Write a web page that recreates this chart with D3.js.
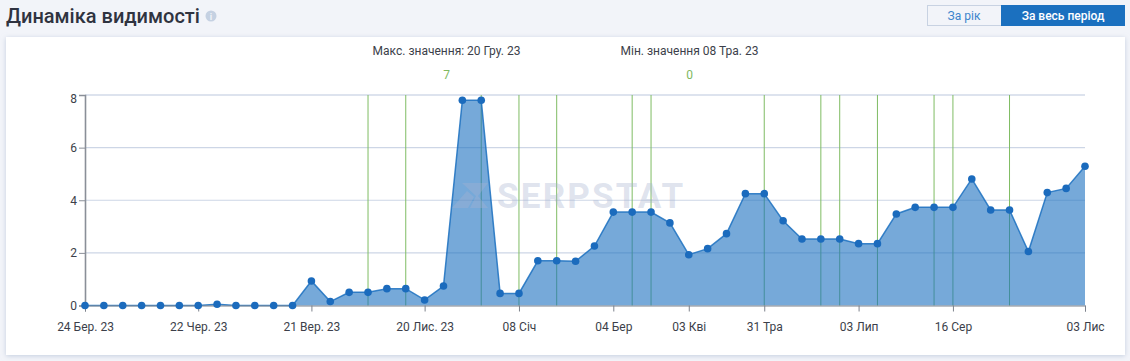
<!DOCTYPE html>
<html>
<head>
<meta charset="utf-8">
<script src="https://cdn.jsdelivr.net/npm/d3@7"></script>
<style>
html, body { margin: 0; padding: 0; background: #f2f4f9; overflow: hidden; }
text { font-family: Roboto, sans-serif; }
.tick text { font-size: 12px; fill: #3c3f4a; }
</style>
</head>
<body>
<div id="chart"></div>
<script>
const values = [0, 0, 0, 0, 0, 0, 0, 0.05, 0, 0, 0, 0, 0.93, 0.15, 0.5, 0.5, 0.64, 0.64, 0.21, 0.74,
    7.8, 7.8, 0.46, 0.46, 1.7, 1.7, 1.68, 2.26, 3.55, 3.55, 3.55, 3.14, 1.93, 2.16, 2.73, 4.25, 4.25,
    3.22, 2.53, 2.53, 2.53, 2.35, 2.35, 3.48, 3.73, 3.73, 3.73, 4.81, 3.63, 3.63, 2.05, 4.29, 4.45, 5.29]
const tickIndexes = [0, 6, 12, 18, 23, 28, 32, 36, 41, 46, 53]
const tickLabels = ["24 Бер. 23", "22 Чер. 23", "21 Вер. 23", "20 Лис. 23", "08 Січ", "04 Бер", "03 Кві", "31 Тра", "03 Лип", "16 Сер", "03 Лис"]
const updateIndexes = [15, 17, 21, 23, 25, 29, 30, 36, 39, 40, 42, 45, 46, 49]
const yTicks = [0, 2, 4, 6, 8]

const width = 1130, height = 361

const svg = d3.select("#chart")
    .append("svg")
    .attr("width", width)
    .attr("height", height)
    .style("display", "block")

const defs = svg.append("defs")
const shadow = defs.append("filter").attr("id", "cardShadow")
    .attr("x", "-2%").attr("y", "-5%").attr("width", "104%").attr("height", "110%")
shadow.append("feDropShadow")
    .attr("dx", 0).attr("dy", 1).attr("stdDeviation", 2.5)
    .attr("flood-color", "#b9c4d8").attr("flood-opacity", 0.8)

// header
svg.append("text")
    .attr("x", 6).attr("y", 23)
    .attr("font-size", 20).attr("font-weight", 500)
    .attr("fill", "#2f3340")
    .text("Динаміка видимості")

svg.append("circle").attr("cx", 211).attr("cy", 16).attr("r", 5.5).attr("fill", "#c5d1e2")
svg.append("text").attr("x", 211).attr("y", 19.5).attr("text-anchor", "middle")
    .attr("font-size", 9).attr("font-weight", 700).attr("fill", "#f2f4f9").text("i")

// buttons
svg.append("rect").attr("x", 927.5).attr("y", 5.5).attr("width", 74).attr("height", 20)
    .attr("fill", "#f2f4f9").attr("stroke", "#c8d2e2")
svg.append("rect").attr("x", 1001).attr("y", 5).attr("width", 124).attr("height", 21).attr("fill", "#1b70bf")
svg.append("text").attr("x", 964).attr("y", 19.5).attr("text-anchor", "middle")
    .attr("font-size", 12).attr("fill", "#3c85cc").text("За рік")
svg.append("text").attr("x", 1063).attr("y", 19.5).attr("text-anchor", "middle")
    .attr("font-size", 12).attr("font-weight", 500).attr("fill", "#fff").text("За весь період")

// card
svg.append("rect").attr("x", 6).attr("y", 37).attr("width", 1119).attr("height", 318)
    .attr("fill", "#fff").attr("filter", "url(#cardShadow)")

// max / min captions
svg.append("text").attr("x", 446.5).attr("y", 55).attr("text-anchor", "middle")
    .attr("font-size", 12).attr("fill", "#3c3f4a").text("Макс. значення: 20 Гру. 23")
svg.append("text").attr("x", 446.5).attr("y", 79).attr("text-anchor", "middle")
    .attr("font-size", 12).attr("fill", "#7fb95f").text("7")
svg.append("text").attr("x", 689.5).attr("y", 55).attr("text-anchor", "middle")
    .attr("font-size", 12).attr("fill", "#3c3f4a").text("Мін. значення 08 Тра. 23")
svg.append("text").attr("x", 689.5).attr("y", 79).attr("text-anchor", "middle")
    .attr("font-size", 12).attr("fill", "#7fb95f").text("0")

const x = d3.scalePoint()
    .domain(values.map((d, i) => i))
    .range([85, 1085])

const y = d3.scaleLinear()
    .domain([0, 8])
    .range([305.5, 95])

// grid
svg.append("g")
    .selectAll("line")
    .data(yTicks.slice(1))
    .enter()
    .append("line")
    .attr("x1", 85).attr("x2", 1085)
    .attr("y1", d => y(d)).attr("y2", d => y(d))
    .attr("stroke", d => d === 8 ? "#dde3ee" : "#cdd6e6")
    .attr("stroke-width", d => d === 8 ? 2 : 1.2)

// update markers
svg.append("g")
    .selectAll("line")
    .data(updateIndexes)
    .enter()
    .append("line")
    .attr("x1", d => x(d)).attr("x2", d => x(d))
    .attr("y1", y(8)).attr("y2", y(0))
    .attr("stroke", "#7fbc63")
    .attr("stroke-width", 1)

// area and line
svg.append("path")
    .datum(values)
    .attr("d", d3.area().x((d, i) => x(i)).y0(y(0)).y1(d => y(d)))
    .attr("fill", "#1b70bf")
    .attr("fill-opacity", 0.6)

svg.append("path")
    .datum(values)
    .attr("d", d3.line().x((d, i) => x(i)).y(d => y(d)))
    .attr("fill", "none")
    .attr("stroke", "#1b70bf")
    .attr("stroke-opacity", 0.85)
    .attr("stroke-width", 1.5)

// watermark sits over the area
const mark = svg.append("g").attr("fill", "#a5b2d0").attr("fill-opacity", 0.36)
mark.append("path")
    .attr("d", "M462 183 L488 183 L478 196 L488 208 L470 208 L476 196 Z")
mark.append("path")
    .attr("d", "M452 208 L467 191 L474 197 L468 208 Z")
mark.append("text")
    .attr("x", 497).attr("y", 208)
    .attr("font-size", 35).attr("font-weight", 700).attr("letter-spacing", 2.2)
    .text("SERPSTAT")

// axes
const xAxis = svg.append("g")
    .attr("transform", `translate(0,${y(0)})`)
    .call(d3.axisBottom(x)
        .tickValues(tickIndexes)
        .tickFormat(d => tickLabels[tickIndexes.indexOf(d)])
        .tickSizeOuter(6))
xAxis.select(".domain").attr("stroke", "#7d828c")
xAxis.selectAll(".tick line").attr("stroke", "#7d828c")
xAxis.selectAll(".tick text").attr("dy", "1.35em")

const yAxis = svg.append("g")
    .attr("transform", "translate(85,0)")
    .call(d3.axisLeft(y)
        .tickValues(yTicks)
        .tickFormat(d3.format("d"))
        .tickSize(6)
        .tickPadding(2))
yAxis.select(".domain").attr("stroke", "#8a8f98").attr("stroke-width", 1.6)
yAxis.selectAll(".tick line").attr("stroke", "#8a8f98")
// the top label hangs below its tick
yAxis.selectAll(".tick text").filter(d => d === 8).attr("dy", "0.65em")

// points
svg.append("g")
    .selectAll("circle")
    .data(values)
    .enter()
    .append("circle")
    .attr("cx", (d, i) => x(i))
    .attr("cy", d => y(d))
    .attr("r", 3.8)
    .attr("fill", "#1b6bbd")
</script>
</body>
</html>
